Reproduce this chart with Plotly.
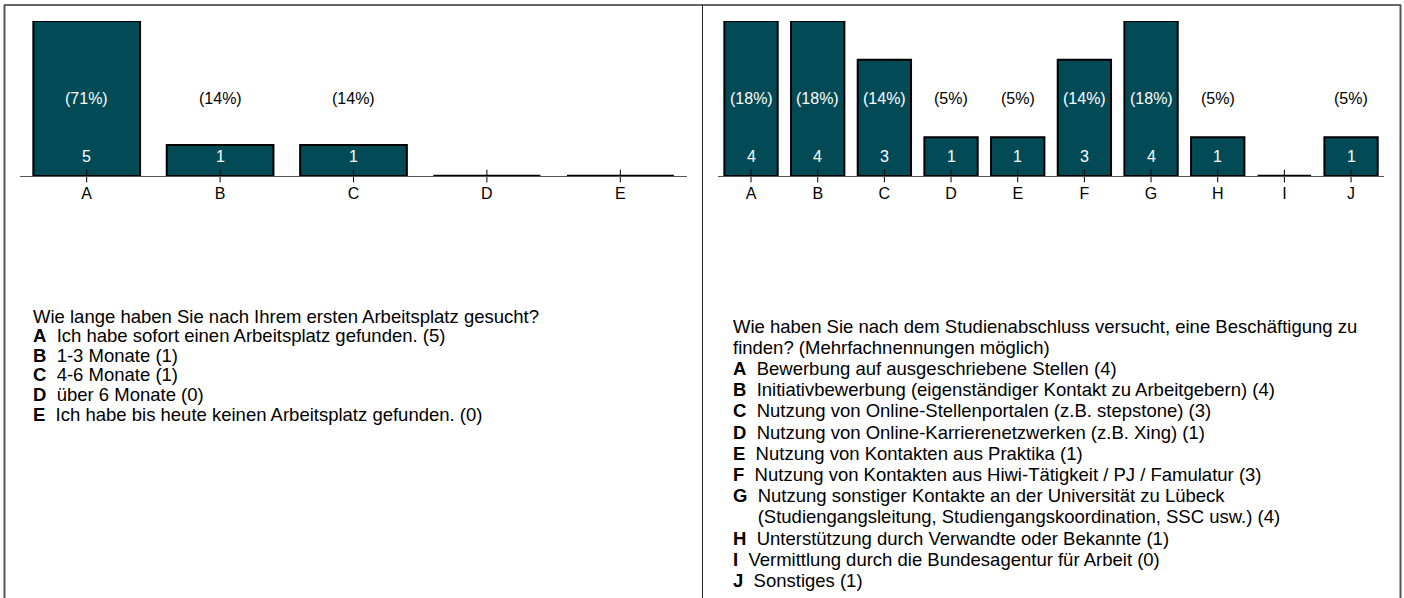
import plotly.graph_objects as go

W, H = 1404, 598

left_categories = ["A", "B", "C", "D", "E"]
left_values = [5, 1, 1, 0, 0]
left_question = ["Wie lange haben Sie nach Ihrem ersten Arbeitsplatz gesucht?"]
left_options = [
    "Ich habe sofort einen Arbeitsplatz gefunden.",
    "1-3 Monate",
    "4-6 Monate",
    "über 6 Monate",
    "Ich habe bis heute keinen Arbeitsplatz gefunden.",
]

right_categories = ["A", "B", "C", "D", "E", "F", "G", "H", "I", "J"]
right_values = [4, 4, 3, 1, 1, 3, 4, 1, 0, 1]
right_question = [
    "Wie haben Sie nach dem Studienabschluss versucht, eine Beschäftigung zu",
    "finden? (Mehrfachnennungen möglich)",
]
right_options = [
    "Bewerbung auf ausgeschriebene Stellen",
    "Initiativbewerbung (eigenständiger Kontakt zu Arbeitgebern)",
    "Nutzung von Online-Stellenportalen (z.B. stepstone)",
    "Nutzung von Online-Karrierenetzwerken (z.B. Xing)",
    "Nutzung von Kontakten aus Praktika",
    "Nutzung von Kontakten aus Hiwi-Tätigkeit / PJ / Famulatur",
    "Nutzung sonstiger Kontakte an der Universität zu Lübeck|(Studiengangsleitung, Studiengangskoordination, SSC usw.)",
    "Unterstützung durch Verwandte oder Bekannte",
    "Vermittlung durch die Bundesagentur für Arbeit",
    "Sonstiges",
]

BAR_COLOR = "#034A57"
FONT = "Liberation Sans, Arial, sans-serif"
TEXT_SIZE = 18.5
LABEL_SIZE = 16
GAP = "\u00a0\u00a0"

fig = go.Figure()


def px_x(p):
    return p / W


def px_y(p):
    return 1 - p / H


panels = [
    dict(cats=left_categories, vals=left_values, q=left_question, opts=left_options,
         xn="x", yn="y", tx=31, ty=316, lh=19.6),
    dict(cats=right_categories, vals=right_values, q=right_question, opts=right_options,
         xn="x2", yn="y2", tx=731, ty=326, lh=21.2),
]

annotations = []
for k, p in enumerate(panels):
    cats, vals = p["cats"], p["vals"]
    idx = list(range(len(cats)))
    vmax = max(vals)
    total = sum(vals)
    fig.add_trace(go.Bar(
        x=idx, y=vals, xaxis=p["xn"], yaxis=p["yn"],
        marker=dict(color=BAR_COLOR, line=dict(color="black", width=2)),
        width=0.8, hoverinfo="skip", showlegend=False,
    ))
    # zero-height bars drawn as flat outlines
    for i, v in enumerate(vals):
        if v == 0:
            fig.add_trace(go.Scatter(
                x=[i - 0.4, i + 0.4], y=[v, v], xaxis=p["xn"], yaxis=p["yn"],
                mode="lines", line=dict(color="black", width=2.5),
                hoverinfo="skip", showlegend=False, cliponaxis=False,
            ))
    # centered tick marks
    fig.add_trace(go.Scatter(
        x=idx, y=[0] * len(idx), xaxis=p["xn"], yaxis=p["yn"], mode="markers",
        marker=dict(symbol="line-ns", size=9, line=dict(color="black", width=1)),
        hoverinfo="skip", showlegend=False, cliponaxis=False,
    ))
    yref_dom = ("y" if k == 0 else "y2") + " domain"
    for i, v in enumerate(vals):
        if v == 0:
            continue
        pct = round(v / total * 100)
        pcol = "white" if v / vmax > 0.56 else "black"
        annotations.append(dict(
            x=i, y=0.503, xref=p["xn"], yref=yref_dom, text=f"({pct}%)",
            showarrow=False, font=dict(family=FONT, size=LABEL_SIZE, color=pcol),
            xanchor="center", yanchor="middle"))
        annotations.append(dict(
            x=i, y=0.129, xref=p["xn"], yref=yref_dom, text=f"{v}",
            showarrow=False, font=dict(family=FONT, size=LABEL_SIZE, color="white"),
            xanchor="center", yanchor="middle"))

    # question text block
    line = 0
    for qline in p["q"]:
        annotations.append(dict(
            x=px_x(p["tx"]), y=px_y(p["ty"] + line * p["lh"]), xref="paper", yref="paper",
            text=qline, showarrow=False, xanchor="left", yanchor="middle",
            font=dict(family=FONT, size=TEXT_SIZE, color="black")))
        line += 1
    for c, opt, v in zip(cats, p["opts"], vals):
        parts = opt.split("|")
        for j, part in enumerate(parts):
            last = j == len(parts) - 1
            txt = part + (f" ({v})" if last else "")
            if j == 0:
                txt = f"<b>{c}</b>{GAP}" + txt
            else:
                txt = f"<b><span style='color:rgba(0,0,0,0)'>{c}</span></b>{GAP}" + txt
            annotations.append(dict(
                x=px_x(p["tx"]), y=px_y(p["ty"] + line * p["lh"]), xref="paper", yref="paper",
                text=txt, showarrow=False, xanchor="left", yanchor="middle",
                font=dict(family=FONT, size=TEXT_SIZE, color="black")))
            line += 1

ydom = (px_y(176), px_y(21))
axis_common = dict(showgrid=False, zeroline=False, showline=True, linecolor="#555",
                   linewidth=1, ticks="", ticklabelstandoff=3,
                   tickfont=dict(family=FONT, size=LABEL_SIZE, color="black"),
                   fixedrange=True)
fig.update_layout(
    width=W, height=H, margin=dict(l=0, r=0, t=0, b=0),
    paper_bgcolor="white", plot_bgcolor="rgba(0,0,0,0)",
    font=dict(family=FONT),
    xaxis=dict(domain=[px_x(20), px_x(687)], range=[-0.5, 4.5], anchor="y",
               tickvals=list(range(len(left_categories))), ticktext=left_categories,
               **axis_common),
    yaxis=dict(domain=list(ydom), range=[0, max(left_values)], visible=False,
               anchor="x", fixedrange=True),
    xaxis2=dict(domain=[px_x(717.7), px_x(1384.4)], range=[-0.5, 9.5], anchor="y2",
                tickvals=list(range(len(right_categories))), ticktext=right_categories,
                **axis_common),
    yaxis2=dict(domain=list(ydom), range=[0, max(right_values)], visible=False,
                anchor="x2", fixedrange=True),
    annotations=annotations,
    shapes=[
        dict(type="line", xref="paper", yref="paper", x0=px_x(4), x1=px_x(1401),
             y0=px_y(5), y1=px_y(5), line=dict(color="#333", width=1.5)),
        dict(type="line", xref="paper", yref="paper", x0=px_x(4.5), x1=px_x(4.5),
             y0=px_y(5), y1=0, line=dict(color="#555", width=2)),
        dict(type="line", xref="paper", yref="paper", x0=px_x(1400.5), x1=px_x(1400.5),
             y0=px_y(5), y1=0, line=dict(color="#555", width=2)),
        dict(type="line", xref="paper", yref="paper", x0=px_x(702.5), x1=px_x(702.5),
             y0=px_y(5), y1=0, line=dict(color="#222", width=1)),
    ],
    showlegend=False,
)

fig.write_html(
    "out.html",
    config={"displayModeBar": False},
    post_script="document.body.style.margin='0px';document.body.style.overflow='hidden';",
)
